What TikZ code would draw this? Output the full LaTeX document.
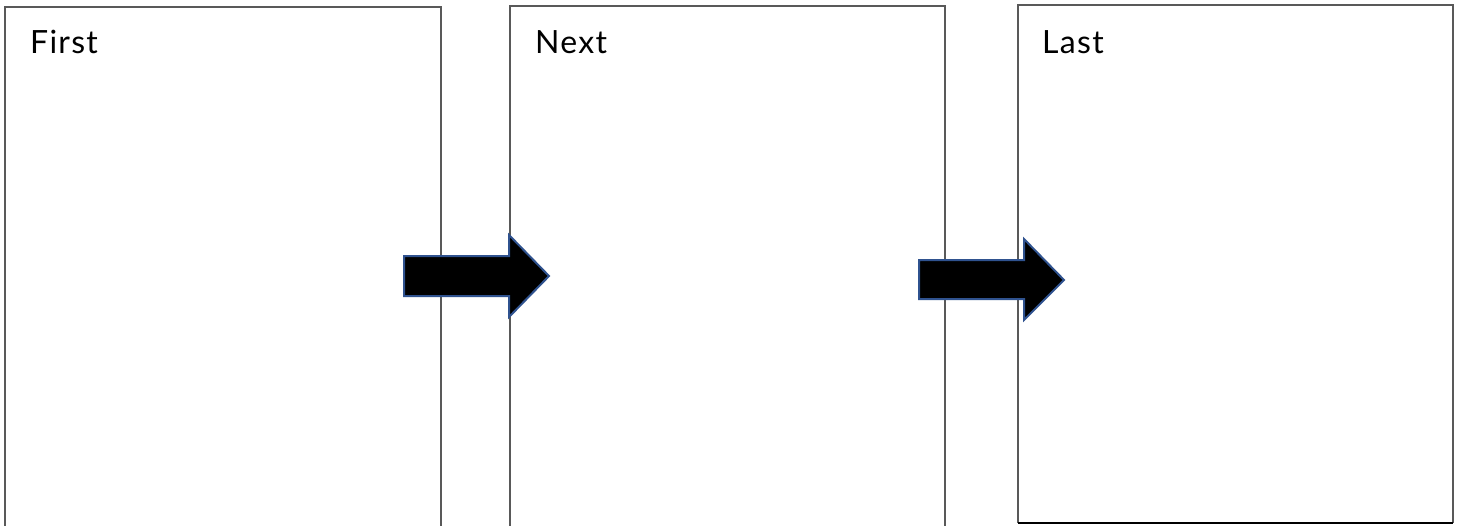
\documentclass[tikz,border=0pt]{standalone}
\usepackage{fontspec}
\setmainfont{Lato}
\definecolor{edgeblue}{RGB}{47,82,143}
\begin{document}
\begin{tikzpicture}[x=1pt,y=-1pt,
  panel/.style={draw=black!65, line width=1.5pt},
  bigarrow/.style={fill=black, draw=edgeblue, line width=2pt, line join=miter},
  lbl/.style={anchor=base west, inner sep=0pt, font=\fontsize{32}{36}\selectfont\addfontfeature{LetterSpace=4}}]
\useasboundingbox (0,0) rectangle (1461,525);
\clip (0,0) rectangle (1461,525);
\fill[white] (0,0) rectangle (1461,525);
% panels
\draw[panel] (5,7) rectangle (441,540);
\draw[panel] (510,6) rectangle (945,540);
\draw[panel] (1018,523) -- (1018,5) -- (1453,5) -- (1453,523);
\draw[line width=1.5pt, black] (1018,523) -- (1453,523);
% labels
\node[lbl] (t1) at (30,53) {First};
\node[lbl] (t2) at (535,53) {Next};
\node[lbl] (t3) at (1042,53) {Last};
% arrows
\draw[bigarrow] (404,256) -- (509,256) -- (509,235) -- (549,276) -- (509,317) -- (509,296) -- (404,296) -- cycle;
\draw[bigarrow] (919,260) -- (1024,260) -- (1024,239) -- (1064,280) -- (1024,320) -- (1024,299) -- (919,299) -- cycle;
\end{tikzpicture}
\end{document}
